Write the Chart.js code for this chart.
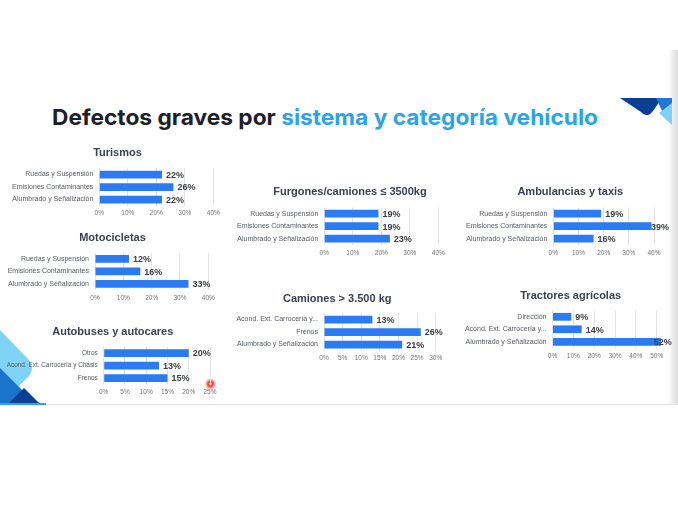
<!DOCTYPE html>
<html>
<head>
<meta charset="utf-8">
<script src="https://cdn.jsdelivr.net/npm/chart.js@4.4.0/dist/chart.umd.min.js"></script>
<style>
  html, body { margin: 0; padding: 0; background: #fff; width: 678px; height: 509px; overflow: hidden; }
  #deco { position: absolute; left: 0; top: 0; }
  canvas { position: absolute; }
</style>
</head>
<body>
<svg id="deco" width="678" height="509">
  <defs>
    <linearGradient id="sombra" x1="0" x2="1" y1="0" y2="0">
      <stop offset="0" stop-color="#000" stop-opacity="0"/>
      <stop offset="1" stop-color="#000" stop-opacity="0.14"/>
    </linearGradient>
    <radialGradient id="punto">
      <stop offset="0" stop-color="#ff2a1a" stop-opacity="1"/>
      <stop offset="0.45" stop-color="#ff3b2f" stop-opacity="0.9"/>
      <stop offset="1" stop-color="#ff5a50" stop-opacity="0"/>
    </radialGradient>
  </defs>
  <!-- sombra del borde derecho de la diapositiva -->
  <rect x="668" y="50" width="10" height="355" fill="url(#sombra)"/>
  <!-- adorno arriba a la derecha -->
  <path d="M620,98 L662,98 L653,111 Q647,119 641,112 Z" fill="#0b3f93"/>
  <path d="M656,98 L672,98 L672,105 L663,113 Z" fill="#1f78d3"/>
  <path d="M672,103 L672,125 L659,113 Z" fill="#7fd2f6"/>
  <!-- adorno abajo a la izquierda -->
  <path d="M0,330 L29,360 Q35,368 29,376 L4,401 L0,401 Z" fill="#7fd3f7"/>
  <path d="M0,368 L24,392 L12,404 L0,404 Z" fill="#1b74cc"/>
  <path d="M8,404 L24,388 L40,404 Z" fill="#0a3f91"/>
  <rect x="0" y="403" width="46" height="2" fill="#2ba4e9"/>
  <rect x="46" y="404" width="626" height="1" fill="#e4e4e4"/>
  <!-- titulo principal -->
  <text x="52" y="124.5" font-family="Inter, 'Open Sans', sans-serif" font-weight="700" font-size="22"
        textLength="546" lengthAdjust="spacingAndGlyphs" fill="#1d2029">Defectos graves por <tspan fill="#2ba4e9">sistema y categoría vehículo</tspan></text>
  <!-- puntero -->
  <circle cx="210.5" cy="384" r="6" fill="url(#punto)"/>
  <circle cx="210.5" cy="384" r="1.3" fill="#ffd0cc"/>
</svg>

<script>
// categorias
const catsSistemas = ['Ruedas y Suspensión', 'Emisiones Contaminantes', 'Alumbrado y Señalización'];
const catsAutobuses = ['Otros', 'Acond. Ext. Carrocería y Chasis', 'Frenos'];
const catsCamiones = ['Acond. Ext. Carrocería y...', 'Frenos', 'Alumbrado y Señalización'];
const catsTractores = ['Dirección', 'Acond. Ext. Carrocería y...', 'Alumbrado y Señalización'];

// % de defectos graves
const turismos = [22, 26, 22];
const motocicletas = [12, 16, 33];
const autobuses = [20, 13, 15];
const furgones = [19, 19, 23];
const camiones = [13, 26, 21];
const ambulancias = [19, 39, 16];
const tractores = [9, 14, 52];

// ejes (max, paso)
const eje40 = [40, 10];
const eje25 = [25, 5];
const eje30 = [30, 5];
const eje50 = [50, 10];

const AZUL = '#2b7bf4';
const FUENTE = '"Liberation Sans", Arial, sans-serif';
const BANDA = 12.5;
const EJE_X_ALTO = 15;

Chart.defaults.font.family = FUENTE;

// valores al final de cada barra
const etiquetas = {
  id: 'etiquetas',
  afterDatasetsDraw(chart) {
    const ctx = chart.ctx;
    const meta = chart.getDatasetMeta(0);
    const vals = chart.data.datasets[0].data;
    ctx.save();
    ctx.font = 'bold 9px ' + FUENTE;
    ctx.fillStyle = '#3c4043';
    ctx.textBaseline = 'middle';
    meta.data.forEach(function (bar, i) {
      const txt = vals[i] + '%';
      const w = ctx.measureText(txt).width;
      const x = Math.min(bar.x + 4, chart.chartArea.right + 15 - w);
      ctx.fillText(txt, x, bar.y + 1);
    });
    ctx.restore();
  }
};

// titulo de cada grafico centrado sobre todo el bloque
const titulo = {
  id: 'titulo',
  afterDraw(chart, args, opts) {
    const ctx = chart.ctx;
    ctx.save();
    ctx.font = 'bold 11px ' + FUENTE;
    ctx.fillStyle = '#3b4150';
    ctx.textAlign = 'center';
    ctx.textBaseline = 'middle';
    ctx.fillText(opts.text, opts.x, opts.y);
    ctx.restore();
  }
};

const graficos = [
  { titulo: 'Turismos', cats: catsSistemas, vals: turismos, eje: eje40, titleX: 117.5, titleY: 153, plotLeft: 99.3, plotRight: 213.3, bar1: 174.5, left: 0, labelSize: 7 },
  { titulo: 'Motocicletas', cats: catsSistemas, vals: motocicletas, eje: eje40, titleX: 112.5, titleY: 237.5, plotLeft: 95, plotRight: 208.3, bar1: 258.8, left: 0, labelSize: 7 },
  { titulo: 'Autobuses y autocares', cats: catsAutobuses, vals: autobuses, eje: eje25, titleX: 112.8, titleY: 331.7, plotLeft: 103.7, plotRight: 210, bar1: 353, left: 0, labelSize: 6.4 },
  { titulo: 'Furgones/camiones ≤ 3500kg', cats: catsSistemas, vals: furgones, eje: eje40, titleX: 350, titleY: 191.8, plotLeft: 324.3, plotRight: 438.3, bar1: 213.7, left: 230, labelSize: 7 },
  { titulo: 'Camiones > 3.500 kg', cats: catsCamiones, vals: camiones, eje: eje30, titleX: 337.2, titleY: 298.5, plotLeft: 324, plotRight: 435.7, bar1: 319.5, left: 230, labelSize: 7 },
  { titulo: 'Ambulancias y taxis', cats: catsSistemas, vals: ambulancias, eje: eje40, titleX: 570.3, titleY: 192, plotLeft: 553.3, plotRight: 654, bar1: 213.7, left: 460, labelSize: 7 },
  { titulo: 'Tractores agrícolas', cats: catsTractores, vals: tractores, eje: eje50, titleX: 570.7, titleY: 295.7, plotLeft: 552.5, plotRight: 656.7, bar1: 316.8, left: 460, labelSize: 7 }
];

graficos.forEach(function (g) {
  const top = Math.round(g.titleY - 9);
  const left = g.left;
  const width = Math.round(g.plotRight - left + 20);
  const padRight = width - (g.plotRight - left);
  const yw = g.plotLeft - left;
  const plotTop = g.bar1 - BANDA / 2;
  const plotBottom = plotTop + BANDA * g.cats.length;
  const height = Math.ceil(plotBottom - top + EJE_X_ALTO);
  const padBottom = height - EJE_X_ALTO - (plotBottom - top);

  const canvas = document.createElement('canvas');
  canvas.width = width;
  canvas.height = height;
  canvas.style.left = left + 'px';
  canvas.style.top = top + 'px';
  document.body.appendChild(canvas);

  new Chart(canvas, {
    type: 'bar',
    data: {
      labels: g.cats,
      datasets: [{
        data: g.vals,
        backgroundColor: AZUL,
        barPercentage: 0.62,
        categoryPercentage: 1,
        clip: false
      }]
    },
    options: {
      indexAxis: 'y',
      responsive: false,
      animation: false,
      layout: { padding: { left: 0, right: padRight, top: plotTop - top, bottom: padBottom } },
      plugins: {
        legend: { display: false },
        tooltip: { enabled: false },
        titulo: { text: g.titulo, x: g.titleX - left, y: g.titleY - top }
      },
      scales: {
        x: {
          min: 0,
          max: g.eje[0],
          ticks: {
            stepSize: g.eje[1],
            autoSkip: false,
            maxRotation: 0,
            padding: 4,
            color: '#757575',
            font: { size: 6.5 },
            callback: function (v) { return v + '%'; }
          },
          grid: { color: '#e3e3e3', drawTicks: false },
          border: { display: false },
          afterFit: function (s) { s.height = EJE_X_ALTO; }
        },
        y: {
          ticks: { autoSkip: false, padding: 6, color: '#555a64', font: { size: g.labelSize } },
          grid: { display: false, drawTicks: false },
          border: { display: false },
          afterFit: function (s) { s.width = yw; }
        }
      }
    },
    plugins: [etiquetas, titulo]
  });
});
</script>
</body>
</html>
